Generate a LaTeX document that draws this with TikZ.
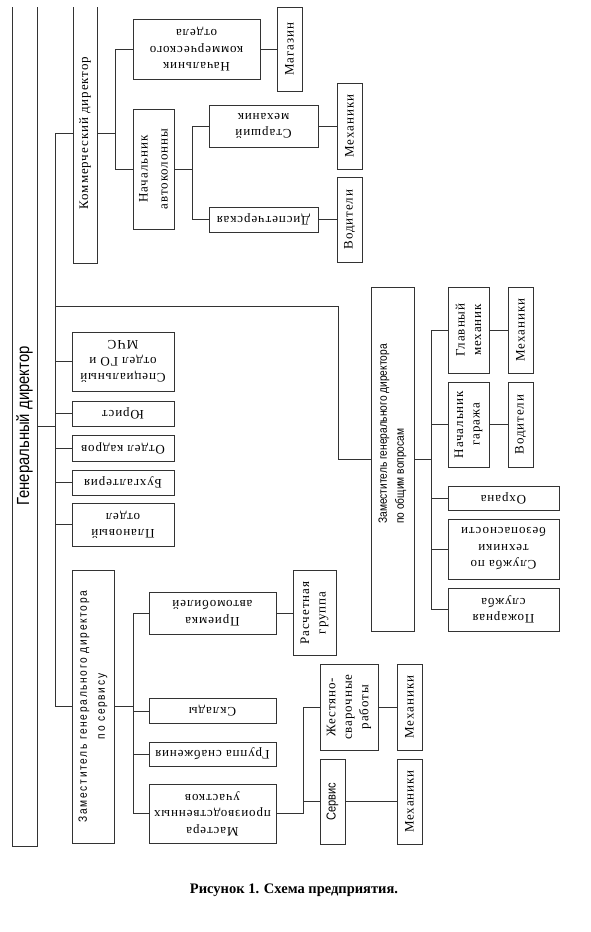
\documentclass[tikz,border=0pt]{standalone}
\usepackage{fontspec}
\setmainfont{Liberation Serif}
\newfontfamily\spsf[LetterSpace=7]{Liberation Serif}
\newfontfamily\arsn[FakeStretch=0.85]{Liberation Sans}
\newfontfamily\arsnw[FakeStretch=0.85, LetterSpace=14]{Liberation Sans}

\begin{document}
\begin{tikzpicture}[
    x=1pt, y=-1pt,
    line/.style={draw=black!80, line width=0.7pt},
    box/.style={line, fill=white, inner sep=1pt, align=center, font=\fontsize{13}{16.5}\spsf},
    upbox/.style 2 args={box, rotate=90, minimum width=#2, minimum height=#1},
    flipbox/.style 2 args={box, rotate=180, minimum width=#1, minimum height=#2},
    link/.style={line}
]
\useasboundingbox (0,0) rectangle (591,932);
\clip (0,7) rectangle (591,932);

% --- Head ---
\node[upbox={25}{840}, font=\fontsize{17.5}{18}\arsn] (gd) at (24.5,426) {Генеральный директор};

% --- Commercial branch ---
\node[upbox={24}{260}] (kd) at (85,133) {Коммерческий директор};
\node[flipbox={127}{60}] (nko) at (196.5,49) {Начальник\\коммерческого\\отдела};
\node[upbox={25}{84}] (mag) at (289.5,49) {Магазин};
\node[upbox={41}{120}, font=\fontsize{13}{20}\spsf] (na) at (153.5,169) {Начальник\\автоколонны};
\node[flipbox={109}{42}] (sm) at (263.5,126) {Старший\\механик};
\node[flipbox={109}{25}] (disp) at (263.5,219.5) {Диспетчерская};
\node[upbox={25}{86}] (meh1) at (349.5,126) {Механики};
\node[upbox={25}{85}] (vod1) at (349.5,219.5) {Водители};

% --- Departments ---
\node[flipbox={102}{59}] (spo) at (123,361.5) {Специальный\\отдел ГО и\\МЧС};
\node[flipbox={102}{25}] (yur) at (123,413.5) {Юрист};
\node[flipbox={102}{26}] (okd) at (123,448) {Отдел кадров};
\node[flipbox={102}{25}] (buh) at (123,482.5) {Бухгалтерия};
\node[flipbox={102}{43}] (plan) at (123,524.5) {Плановый\\отдел};

% --- General affairs branch ---
\node[upbox={43}{344}, align=left, font=\fontsize{12}{17}\arsn] (zo) at (392.5,459)
    {\hspace*{50pt}Заместитель генерального директора\\\hspace*{50pt}по общим вопросам};
\node[upbox={41}{86}] (glm) at (468.5,330) {Главный\\механик};
\node[upbox={25}{86}] (meh2) at (520.5,330) {Механики};
\node[upbox={41}{85}] (ng) at (468.5,424.5) {Начальник\\гаража};
\node[upbox={25}{85}] (vod2) at (520.5,424.5) {Водители};
\node[flipbox={111}{24}] (ohr) at (503.5,498) {Охрана};
\node[flipbox={111}{60}] (stb) at (503.5,549) {Служба по\\техники\\безопасности};
\node[flipbox={111}{43}] (pzh) at (503.5,609.5) {Пожарная\\служба};

% --- Service branch ---
\node[upbox={42}{273}, font=\fontsize{12}{18}\arsnw] (zs) at (93,706.5) {Заместитель генерального директора\\по сервису};
\node[flipbox={127}{42}] (pri) at (212.5,613) {Приемка\\автомобилей};
\node[upbox={43}{85}] (ras) at (314.5,613) {Расчетная\\группа};
\node[flipbox={127}{25}] (skl) at (212.5,711) {Склады};
\node[flipbox={127}{24}] (gsn) at (212.5,754) {Группа снабжения};
\node[flipbox={127}{59}] (mas) at (212.5,813.5) {Мастера\\производственных\\участков};
\node[upbox={58}{86}] (zhs) at (349,707) {Жестяно-\\сварочные\\работы};
\node[upbox={25}{86}] (meh3) at (409.5,707) {Механики};
\node[upbox={25}{85}, font=\fontsize{13}{16}\arsn] (ser) at (332.5,801.5) {Сервис};
\node[upbox={25}{85}] (meh4) at (409.5,801.5) {Механики};

\node[font=\fontsize{14.5}{16}\bfseries] (cap) at (294,890) {Рисунок 1. Схема предприятия.};

% --- Buses ---
\coordinate (b0) at (55,0);
\coordinate (b1) at (115,0);
\coordinate (b2) at (192,0);
\coordinate (b3) at (431,0);
\coordinate (b4) at (338,306);
\coordinate (b5) at (133,0);
\coordinate (b6) at (303,0);

\draw[link] (gd) -- (gd -| b0);
\draw[link] (b0 |- kd) -- (b0 |- zs);
\foreach \n in {kd, spo, yur, okd, buh, plan, zs} \draw[link] (b0 |- \n) -- (\n);
\draw[link] (b0 |- b4) -- (b4) |- (zo);

\draw[link] (kd) -- (kd -| b1);
\draw[link] (b1 |- nko) -- (b1 |- na);
\foreach \n in {nko, na} \draw[link] (b1 |- \n) -- (\n);
\draw[link] (nko) -- (mag);
\draw[link] (na) -- (na -| b2);
\draw[link] (b2 |- sm) -- (b2 |- disp);
\foreach \n in {sm, disp} \draw[link] (b2 |- \n) -- (\n);
\draw[link] (sm) -- (meh1);
\draw[link] (disp) -- (vod1);

\draw[link] (zo) -- (zo -| b3);
\draw[link] (b3 |- glm) -- (b3 |- pzh);
\foreach \n in {glm, ng, ohr, stb, pzh} \draw[link] (b3 |- \n) -- (\n);
\draw[link] (glm) -- (meh2);
\draw[link] (ng) -- (vod2);

\draw[link] (zs) -- (zs -| b5);
\draw[link] (b5 |- pri) -- (b5 |- mas);
\foreach \n in {pri, skl, gsn, mas} \draw[link] (b5 |- \n) -- (\n);
\draw[link] (pri) -- (ras);
\draw[link] (mas) -- (mas -| b6);
\draw[link] (b6 |- zhs) -- (b6 |- mas);
\foreach \n in {zhs, ser} \draw[link] (b6 |- \n) -- (\n);
\draw[link] (zhs) -- (meh3);
\draw[link] (ser) -- (meh4);
\end{tikzpicture}
\end{document}
